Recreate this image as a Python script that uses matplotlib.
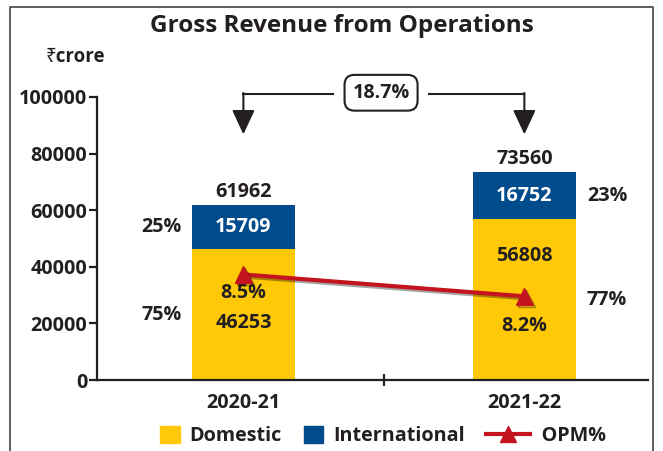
import matplotlib
matplotlib.use("Agg")
import matplotlib.pyplot as plt
import matplotlib.patheffects as pe
from matplotlib.lines import Line2D
from matplotlib.patches import Patch
from matplotlib.legend_handler import HandlerLine2D

plt.rcParams['font.family'] = ['Open Sans', 'Noto Sans', 'DejaVu Sans']
plt.rcParams['font.weight'] = 'bold'

# ---- data ----
years = ["2020-21", "2021-22"]
domestic = [46253, 56808]
international = [15709, 16752]
totals = [61962, 73560]
opm = [8.5, 8.2]
opm_labels = ["8.5%", "8.2%"]
dom_share = ["75%", "77%"]
int_share = ["25%", "23%"]
growth_label = "18.7%"
yticks = [0, 20000, 40000, 60000, 80000, 100000]

# ---- style ----
YEL = "#FFC907"
BLU = "#004B8B"
RED = "#C4141F"
TXT = "#231F20"
FS = 14.2

W, H = 663, 451
fig = plt.figure(figsize=(W / 100, H / 100), dpi=100)
ax = fig.add_axes([97 / W, 71 / H, (648 - 97) / W, (380 - 97) / H])

x = list(range(len(years)))
bw = 0.367
ax.bar(x, domestic, width=bw, color=YEL, zorder=2)
ax.bar(x, international, width=bw, bottom=domestic, color=BLU, zorder=2)

ax.set_xlim(-0.521, 1.44)
ax.set_ylim(0, 100000)

for s in ["top", "right"]:
    ax.spines[s].set_visible(False)
for s in ["left", "bottom"]:
    ax.spines[s].set_linewidth(1.6)
    ax.spines[s].set_color(TXT)

ax.set_yticks(yticks)
ax.set_yticklabels([str(v) for v in yticks])
ax.tick_params(axis="y", length=6, width=1.6, color=TXT, labelsize=FS,
               labelcolor=TXT, pad=1)
ax.set_xticks(x)
ax.set_xticklabels(years)
ax.tick_params(axis="x", which="major", length=0, labelsize=FS,
               labelcolor=TXT, pad=9)
ax.set_xticks([0.5], minor=True)
ax.tick_params(axis="x", which="minor", length=9, width=1.6, color=TXT,
               direction="inout")

# value labels
dom_label_y = [20100, 43700]
for i in x:
    ax.annotate(f"{totals[i]}", (i, domestic[i] + international[i]),
                xytext=(0, 2), textcoords="offset points", ha="center",
                va="bottom", fontsize=FS, color=TXT)
    ax.text(i, domestic[i] + international[i] / 2, f"{international[i]}",
            ha="center", va="center", fontsize=FS, color="white")
    ax.text(i, dom_label_y[i], f"{domestic[i]}", ha="center", va="center",
            fontsize=FS, color=TXT)

share_x = [-0.29, 1.294]
for i in x:
    ax.text(share_x[i], domestic[i] + international[i] / 2, int_share[i],
            ha="center", va="center", fontsize=FS, color=TXT)
    ax.text(share_x[i], domestic[i] / 2, dom_share[i],
            ha="center", va="center", fontsize=FS, color=TXT)

# OPM line on a twin scale
ax2 = ax.twinx()
ax2.set_ylim(7.05, 10.94)
ax2.axis("off")
ax2.plot(x, opm, color=RED, lw=3, marker="^", markersize=12, zorder=5,
         path_effects=[pe.SimpleLineShadow(offset=(1.5, -1.5), alpha=0.35),
                       pe.Normal()])
opm_off = [-13, -21]
for i in x:
    ax2.annotate(opm_labels[i], (i, opm[i]), xytext=(0, opm_off[i]),
                 textcoords="offset points", ha="center", va="center",
                 fontsize=FS, color=TXT)

# growth bracket
yb = 100900
ytip = 86800
ax.plot([0, 0.32], [yb, yb], color=TXT, lw=1.5, clip_on=False)
ax.plot([0.66, 1], [yb, yb], color=TXT, lw=1.5, clip_on=False)
for i in x:
    ax.annotate("", xy=(i, ytip), xytext=(i, yb + 500),
                arrowprops=dict(arrowstyle="-|>,head_length=1.5,head_width=0.7",
                                color=TXT, lw=1.5, shrinkA=0, shrinkB=0),
                annotation_clip=False)
ax.text(0.49, 101500, growth_label, ha="center", va="center", fontsize=FS,
        color=TXT, bbox=dict(boxstyle="round,pad=0.4,rounding_size=0.5",
                             fc="white", ec=TXT, lw=1.5))

# titles
fig.text(342 / W, 1 - 26 / H, "Gross Revenue from Operations", ha="center",
         va="center", fontsize=17.5, color=TXT)
fig.text(75 / W, 1 - 57 / H, "₹crore", ha="center", va="center",
         fontsize=13.5, color=TXT)


class LongLine(HandlerLine2D):
    def create_artists(self, legend, orig_handle, xdescent, ydescent,
                       width, height, fontsize, trans):
        return super().create_artists(legend, orig_handle,
                                      xdescent, ydescent,
                                      width * 2.2, height, fontsize, trans)


# legend
line_handle = Line2D([], [], color=RED, lw=3, marker="^", markersize=11)
handles = [Patch(color=YEL), Patch(color=BLU), line_handle]
fig.legend(handles, ["Domestic", "International", "     OPM%"], loc="center",
           bbox_to_anchor=(383 / W, 1 - 436 / H), ncol=3, frameon=False,
           fontsize=FS, handlelength=1.0, handleheight=1.0,
           columnspacing=1.1, handletextpad=0.5,
           labelcolor=TXT, handler_map={line_handle: LongLine()})

# outer frame (left, top, right)
fx = [10 / W, 10 / W, 653 / W, 653 / W]
fy = [0, 1 - 7 / H, 1 - 7 / H, 0]
fig.add_artist(Line2D(fx, fy, color="#444444", lw=1.2))

fig.savefig("out.png", dpi=100)
